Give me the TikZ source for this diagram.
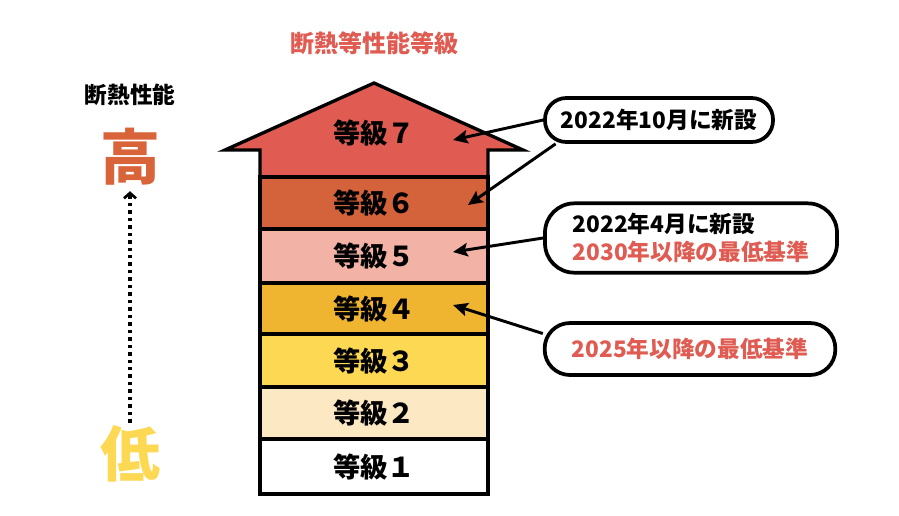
\documentclass[tikz,border=0pt]{standalone}
\usepackage{fontspec}
\setmainfont{Noto Sans CJK JP}
\usepackage{tikz}
\usetikzlibrary{arrows.meta}
\definecolor{lvseven}{HTML}{E05C52}
\definecolor{lvsix}{HTML}{D4623A}
\definecolor{lvfive}{HTML}{F2B3A6}
\definecolor{lvfour}{HTML}{F0B530}
\definecolor{lvthree}{HTML}{FDD853}
\definecolor{lvtwo}{HTML}{FDE8C4}
\definecolor{lvone}{HTML}{FFFFFF}
\definecolor{titlered}{HTML}{E05C52}
\definecolor{highorange}{HTML}{D9643A}
\definecolor{lowyellow}{HTML}{FDD853}

\begin{document}
\begin{tikzpicture}[x=0.75pt,y=-0.75pt,
  lvline/.style={draw=black,line width=2.5pt},
  lvtext/.style={font=\fontsize{20.5}{24}\selectfont\bfseries},
  callout/.style={draw=black,line width=2.8pt,fill=white,rounded corners=16pt,
    font=\fontsize{17}{21}\selectfont\bfseries,align=left,inner sep=0pt},
  conn/.style={line width=2.2pt,-{Stealth[length=11pt,width=10pt,inset=2pt]}}]
\useasboundingbox (0,0) rectangle (899,515);
% arrow head with level 7
\draw[lvline,fill=lvseven] (260,177) -- (260,150) -- (225,150) -- (374,83)
  -- (523,150) -- (488,150) -- (488,177) -- cycle;
\node[lvtext] (l7) at (374,133) {等級７};
% levels 6 to 1
\foreach \n/\t/\b/\c/\s in {6/177/229/lvsix/６,5/229/283/lvfive/５,
    4/283/334/lvfour/４,3/334/387/lvthree/３,2/387/439/lvtwo/２,1/439/494/lvone/１}{
  \draw[lvline,fill=\c] (260,\t) rectangle (488,\b);
  \node[lvtext] (l\n) at (374,{(\t+\b)/2}) {等級\s};
}
% titles
\node[font=\fontsize{18}{22}\selectfont\bfseries,text=titlered] (title) at (374,43) {断熱等性能等級};
\node[font=\fontsize{17}{21}\selectfont\bfseries] (perf) at (130,95) {断熱性能};
\node[font=\fontsize{45}{50}\selectfont\bfseries,text=highorange,inner sep=0pt] (hi) at (130,157) {高};
\node[font=\fontsize{45}{50}\selectfont\bfseries,text=lowyellow,inner sep=0pt] (lo) at (130,454) {低};
\draw[line width=2.6pt,dash pattern=on 2.6pt off 3pt,
  -{Straight Barb[length=4pt,width=9pt,line width=2pt]},
  shorten <=2pt,shorten >=4pt] (lo.north) -- (hi.south);
% callouts
\node[callout,minimum width=171pt,minimum height=33pt] (c1) at (659,120) {2022年10月に新設};
\node[callout,minimum width=219pt,minimum height=52pt,rounded corners=22pt] (c2) at (691,238)
  {2022年4月に新設\\\textcolor{titlered}{2030年以降の最低基準}};
\node[callout,minimum width=218pt,minimum height=39pt,rounded corners=19pt] (c3) at (690,349)
  {\textcolor{titlered}{2025年以降の最低基準}};
\coordinate (p7) at (453,140);
\coordinate (p6) at (468,205);
\coordinate (p5) at (453,252);
\coordinate (p4) at (453,305);
\draw[conn] (c1.west) -- (p7);
\draw[conn] (c1.193) -- (p6);
\draw[conn] (c2.west) -- (p5);
\draw[conn] (c3.174) -- (p4);
\end{tikzpicture}
\end{document}
